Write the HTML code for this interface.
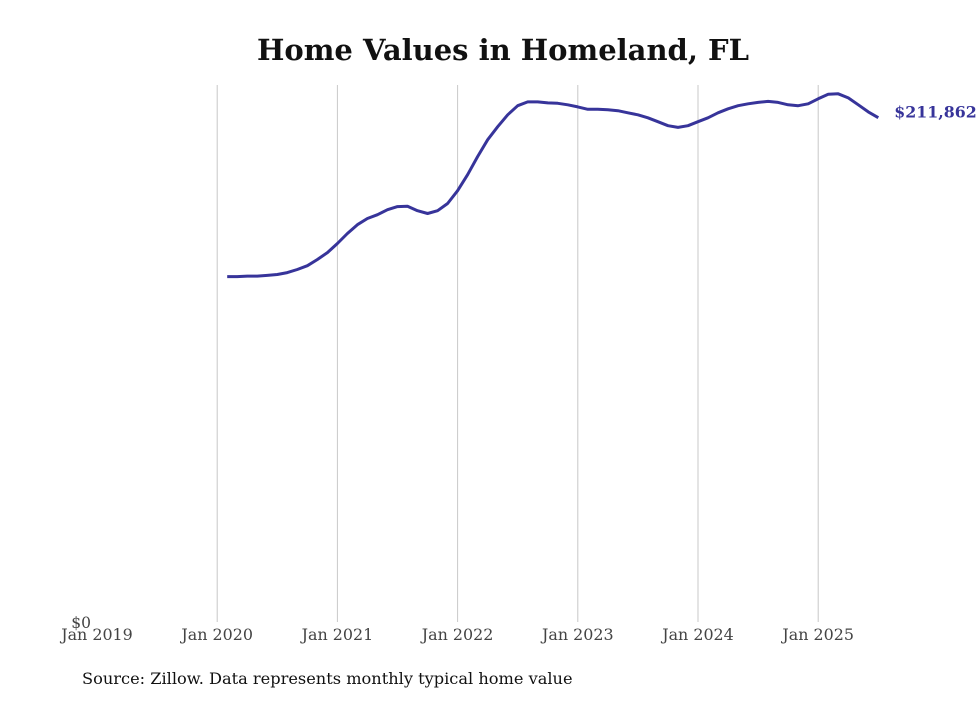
<!DOCTYPE html>
<html><head><meta charset="utf-8"><style>
body{margin:0;background:#fff;width:980px;height:699px;overflow:hidden;font-family:"DejaVu Serif",serif}
</style></head><body>
<svg width="980" height="699" xmlns="http://www.w3.org/2000/svg" font-family="DejaVu Serif, serif">
<text x="503" y="60" text-anchor="middle" font-size="29" font-weight="bold" fill="#111">Home Values in Homeland, FL</text>
<g id="grid"></g>
<g id="xticks"></g>
<text x="91" y="628" text-anchor="end" font-size="15.5" fill="#444">$0</text>
<path id="line" fill="none" stroke="#37349a" stroke-width="3" stroke-linejoin="round"/>
<text id="endlabel" font-size="15.8" font-weight="bold" fill="#37349a"></text>
<text x="82" y="684" font-size="16.2" fill="#111">Source: Zillow. Data represents monthly typical home value</text>
</svg>
<script>
const tickYears=[2019,2020,2021,2022,2023,2024,2025];
const startYear=2020, startMonth=1; // Feb 2020 (0-based month)
const values=[145.1,145.1,145.3,145.3,145.6,146.0,146.8,148.1,149.7,152.3,155.2,
159.0,163.2,166.9,169.5,171.1,173.2,174.5,174.7,172.8,171.6,172.8,175.8,
181.2,187.9,195.5,202.6,208.1,213.1,216.9,218.5,218.5,218.1,217.9,217.3,
216.4,215.4,215.4,215.2,214.8,213.9,213.1,211.8,210.2,208.5,207.8,208.5,
210.2,211.8,213.9,215.6,216.9,217.7,218.3,218.7,218.3,217.3,216.9,217.7,
219.8,221.7,221.9,220.2,217.3,214.3,211.862];
const yMax=225.6;
function xs(t){return 97+(t-2019)*120.2;}
function ys(v){return 622-v/yMax*537;}
const ns="http://www.w3.org/2000/svg";
const grid=document.getElementById('grid'),xt=document.getElementById('xticks');
tickYears.forEach(y=>{
 if(y>2019){const l=document.createElementNS(ns,'line');
 l.setAttribute('x1',xs(y));l.setAttribute('x2',xs(y));l.setAttribute('y1',85);l.setAttribute('y2',622);
 l.setAttribute('stroke','#c8c8c8');l.setAttribute('stroke-width','1');
 
 
 grid.appendChild(l);}
 const t=document.createElementNS(ns,'text');
 t.setAttribute('x',xs(y));t.setAttribute('y',640);t.setAttribute('text-anchor','middle');
 t.setAttribute('font-size','15.9');t.setAttribute('fill','#444');t.textContent='Jan '+y;
 
 
 xt.appendChild(t);
});
let d='',lx,ly;
values.forEach((v,i)=>{const t=startYear+(startMonth+i)/12;lx=xs(t);ly=ys(v);d+=(i?'L':'M')+lx.toFixed(1)+','+ly.toFixed(1);});
document.getElementById('line').setAttribute('d',d);
const el=document.getElementById('endlabel');
el.setAttribute('x',lx+16);el.setAttribute('y',ly);
el.textContent='$'+Math.round(values[values.length-1]*1000).toLocaleString('en-US');
</script>
</body></html>
